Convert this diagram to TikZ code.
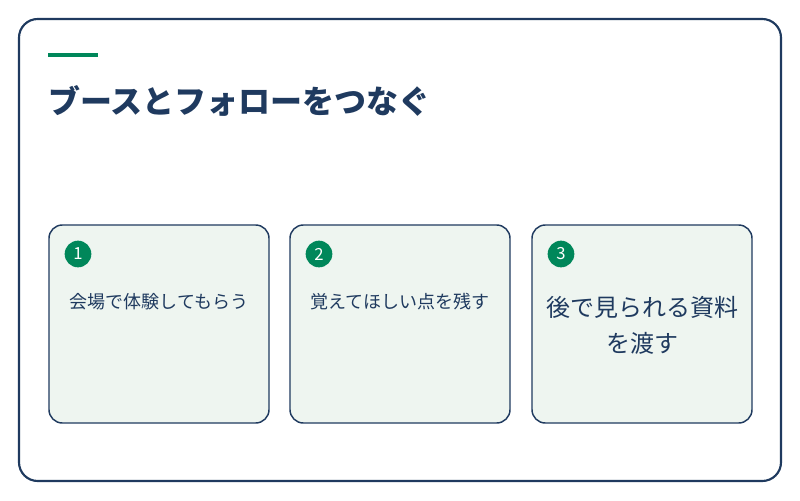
\documentclass[tikz,border=0pt]{standalone}
\usepackage{fontspec}
\newfontfamily\cjk{Noto Sans CJK JP}
\usetikzlibrary{positioning}
\definecolor{navy}{HTML}{1F3A5F}
\definecolor{accent}{HTML}{00875A}
\definecolor{cardbg}{HTML}{EEF5F0}
\tikzset{
    card/.style={draw=navy, line width=1.1pt, fill=cardbg, rounded corners=10pt,
        minimum width=165pt, minimum height=148.5pt, inner sep=0pt},
    num/.style={circle, fill=accent, text=white, minimum size=20pt, inner sep=0pt,
        font=\cjk\fontsize{12.5}{12.5}\selectfont},
    cardtext/.style={text=navy, align=center, font=\cjk\fontsize{13.5}{16}\selectfont},
    bigtext/.style={text=navy, align=center, text width=160pt, font=\cjk\fontsize{18}{27}\selectfont}
}
\begin{document}
\begin{tikzpicture}[x=0.75pt, y=-0.75pt]
    \useasboundingbox (0,0) rectangle (800,500);
    \draw[navy, line width=1.6pt, fill=white, rounded corners=14pt] (19,19) rectangle (781,481);
    \draw[accent, line width=3pt] (48,55) -- (98,55);
    \node[anchor=west, inner sep=0pt, text=navy, font=\cjk\bfseries\fontsize{24}{24}\selectfont] (title) at (48,101) {ブースとフォローをつなぐ};
    % cards
    \node[card] (c1) at (159,324) {};
    \node[card] (c2) at (400,324) {};
    \node[card] (c3) at (642,324) {};
    \node[num] (n1) at (78,254) {1};
    \node[num] (n2) at (319,254) {2};
    \node[num] (n3) at (561,254) {3};
    \node[cardtext] (t1) at (159,302) {会場で体験してもらう};
    \node[cardtext] (t2) at (400,302) {覚えてほしい点を残す};
    \node[bigtext] (t3) at (642,325) {後で見られる資料\\を渡す};
\end{tikzpicture}
\end{document}
